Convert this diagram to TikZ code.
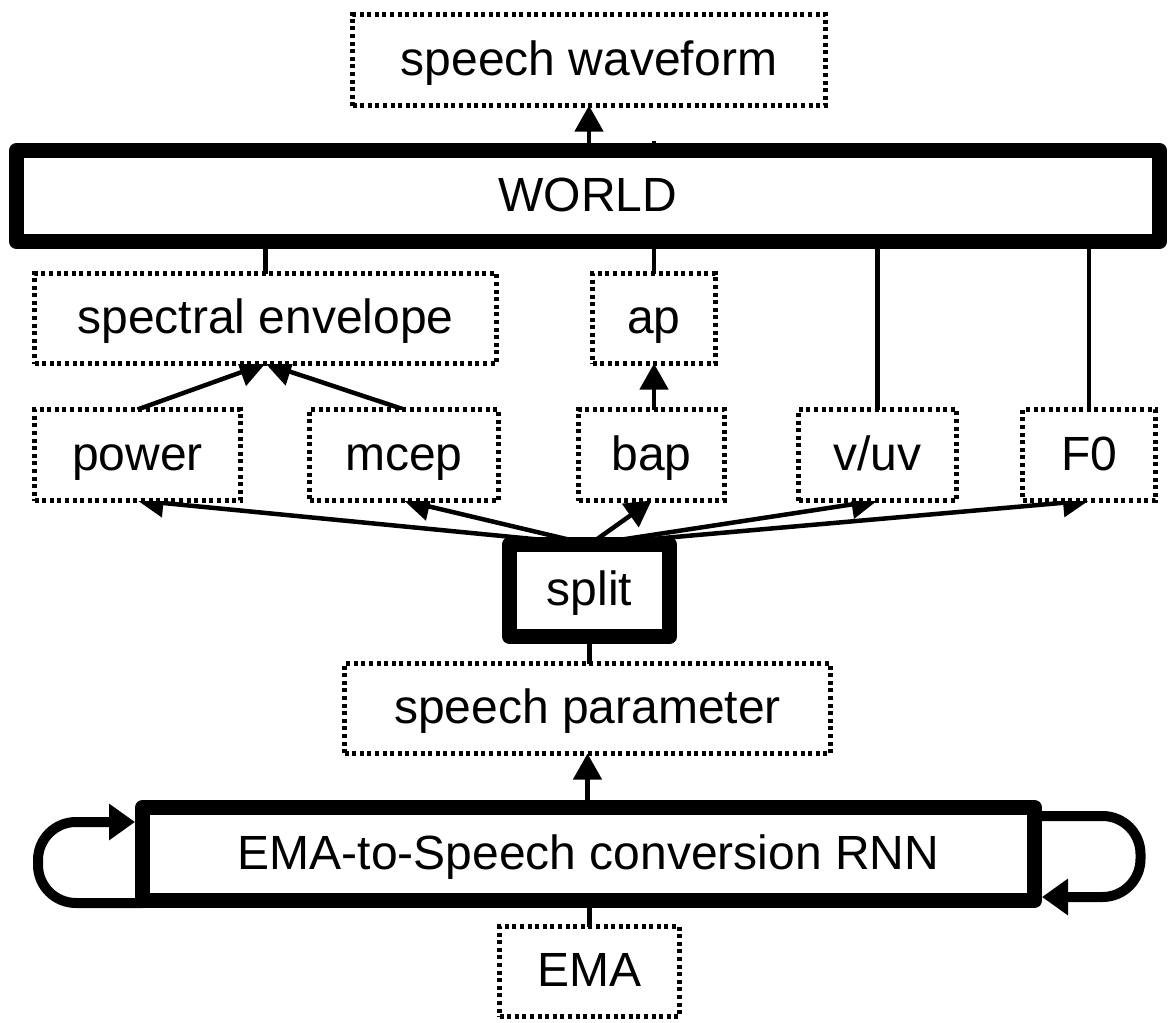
\documentclass[tikz,border=0pt]{standalone}
\usepackage{fontspec}
\setmainfont{Liberation Sans}
\usetikzlibrary{arrows.meta,backgrounds}

\begin{document}
\begin{tikzpicture}[x=1pt,y=-1pt,
  lbl/.style={font=\fontsize{48}{56}\selectfont, text height=37pt, text depth=7pt,
              inner sep=0pt, outer sep=0pt, fill=white},
  dotbox/.style={lbl, draw, line width=4.2pt, dash pattern=on 4pt off 3.6pt},
  heavybox/.style={lbl, draw, line width=15pt, line join=round},
  conn/.style={line width=4.5pt},
  arr/.style={conn, -{Triangle[width=28pt,length=26pt]}},
  loopline/.style={line width=10pt, rounded corners=38pt,
                   -{Triangle[width=35pt,length=26pt]}},
]
\useasboundingbox (0,0) rectangle (1168,1023);

% output side
\node[dotbox, minimum width=473pt, minimum height=91pt] (wave) at (589,60) {speech waveform};
\node[heavybox, minimum width=1143pt, minimum height=91pt] (world) at (588,196) {WORLD};

% vocoder parameters
\node[dotbox, minimum width=462pt, minimum height=90pt] (spec) at (265.5,318.5) {spectral envelope};
\node[dotbox, minimum width=123pt, minimum height=90pt] (ap) at (654,318.5) {ap};
\node[dotbox, minimum width=206pt, minimum height=91pt] (power) at (137.5,455) {power};
\node[dotbox, minimum width=189pt, minimum height=91pt] (mcep) at (404,455) {mcep};
\node[dotbox, minimum width=146pt, minimum height=91pt] (bap) at (651.5,455) {bap};
\node[dotbox, minimum width=158pt, minimum height=91pt] (vuv) at (877.5,455) {v/uv};
\node[dotbox, minimum width=133pt, minimum height=91pt] (f0) at (1089,455) {F0};

% network side
\node[heavybox, minimum width=160pt, minimum height=92pt] (split) at (589.5,590.5) {split};
\node[dotbox, minimum width=486pt, minimum height=90pt] (param) at (587.5,708.5) {speech parameter};
\node[heavybox, minimum width=892pt, minimum height=93pt] (rnn) at (588.5,854) {EMA-to-Speech conversion RNN};
\node[dotbox, minimum width=180pt, minimum height=90pt] (ema) at (589.5,971.5) {EMA};

\begin{scope}[on background layer]
  \fill[white] (0,0) rectangle (1168,1023);

  % WORLD synthesis
  \draw[arr] (wave.south |- world.north) -- (wave.south);
  \draw[conn] (spec.north) -- (spec.north |- world.south);
  \draw[conn] (ap.north) -- (ap.north |- world.north) -- ++(0,-10);
  \draw[conn] (vuv.north) -- (vuv.north |- world.south);
  \draw[conn] (f0.north) -- (f0.north |- world.south);

  % parameter conversion
  \draw[arr] (power.north) -- (spec.south);
  \draw[arr] (mcep.north) -- (spec.south);
  \draw[arr] (ap.south |- bap.north) -- (ap.south);

  % splitting of the predicted parameters
  \foreach \t in {power,mcep,bap,vuv,f0}
    \draw[arr] (split.north) -- (\t.south);

  \draw[conn] (split.south) -- (split.south |- param.north);
  \draw[arr] (param.south |- rnn.north) -- (param.south);
  \draw[conn] (ema.north) -- (ema.north |- rnn.south);

  % recurrent loops
  \draw[loopline] ([yshift=-2.5pt]rnn.south west) -- ++(-104.5,0) -- ++(0,-81)
      -- ([xshift=-7.5pt,yshift=-14.5pt]rnn.north west);
  \draw[loopline] ([yshift=-8.5pt]rnn.north east) -- ++(106,0) -- ++(0,81)
      -- ([xshift=7.5pt,yshift=3.5pt]rnn.south east);
\end{scope}
\end{tikzpicture}
\end{document}
